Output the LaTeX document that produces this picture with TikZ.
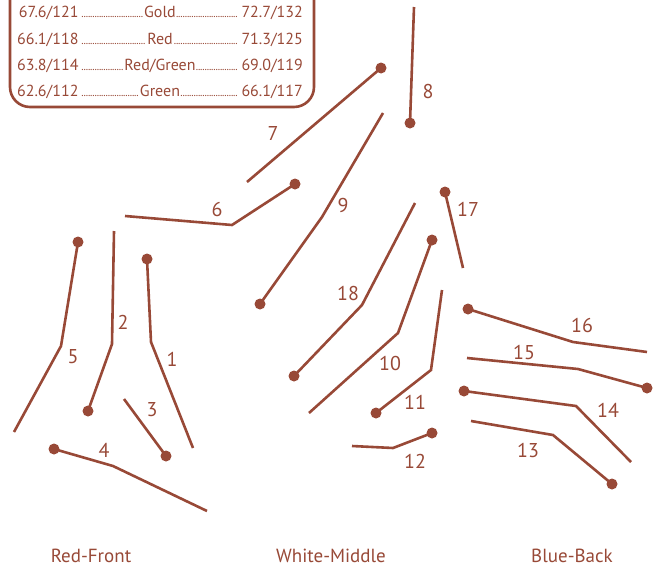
\documentclass[tikz,border=0pt]{standalone}
\usepackage{fontspec}
\setmainfont{PT Sans}
\usetikzlibrary{positioning}
\definecolor{rustred}{RGB}{152,73,55}
\newcommand\leadfill{\leaders\hbox to 2.2pt{\hss\fontsize{11}{11}\selectfont.\hss}\hfill}
\newcommand\tabrow[3]{\makebox[60pt][r]{#1}\hspace{3pt}\makebox[157pt]{\leadfill #2\leadfill}\hspace{3pt}\makebox[60pt][l]{#3}}

\begin{document}
\begin{tikzpicture}[
    x=1pt, y=-1pt,
    seg/.style={draw=rustred, line width=2.6pt},
    ball/.style={circle, fill=rustred, inner sep=0pt, minimum size=11pt},
    num/.style={text=rustred, font=\fontsize{20}{20}\selectfont, inner sep=0pt},
    group/.style={text=rustred, font=\fontsize{19}{19}\selectfont, inner sep=0pt},
    row/.style={text=rustred, font=\fontsize{16}{16}\selectfont, inner sep=0pt}
  ]
    \useasboundingbox (0,0) rectangle (663,573);

    % score box
    \draw[rustred, line width=2.6pt, rounded corners=20pt] (10,-30) rectangle (314,107);
    \node[row] (gold) at (160,13) {\tabrow{67.6/121}{Gold}{72.7/132}};
    \node[row] (red) at (160,40) {\tabrow{66.1/118}{Red}{71.3/125}};
    \node[row] (redgreen) at (160,66) {\tabrow{63.8/114}{Red/Green}{69.0/119}};
    \node[row] (green) at (160,92) {\tabrow{62.6/112}{Green}{66.1/117}};

    % red - front
    \node[ball] (p1) at (147,259) {};
    \draw[seg] (p1.center) -- (151,342) -- (193,448);
    \node[num] (n1) at (172,359) {1};
    \node[ball] (p2) at (88,411) {};
    \draw[seg] (p2.center) -- (112,344) -- (114,231);
    \node[num] (n2) at (123,322) {2};
    \node[ball] (p3) at (166,456) {};
    \draw[seg] (p3.center) -- (124,399);
    \node[num] (n3) at (152,410) {3};
    \node[ball] (p4) at (54,449) {};
    \draw[seg] (p4.center) -- (113,466) -- (207,511);
    \node[num] (n4) at (104,450) {4};
    \node[ball] (p5) at (78,242) {};
    \draw[seg] (p5.center) -- (61,346) -- (14,432);
    \node[num] (n5) at (73,357) {5};
    \node[ball] (p6) at (295,184) {};
    \draw[seg] (p6.center) -- (232,225) -- (125,216);
    \node[num] (n6) at (217,209) {6};

    % white - middle
    \node[ball] (p7) at (381,68) {};
    \draw[seg] (p7.center) -- (247,182);
    \node[num] (n7) at (273,133) {7};
    \node[ball] (p8) at (410,123) {};
    \draw[seg] (p8.center) -- (414,7);
    \node[num] (n8) at (428,91) {8};
    \node[ball] (p9) at (260,304) {};
    \draw[seg] (p9.center) -- (322,217) -- (383,113);
    \node[num] (n9) at (343,205) {9};
    \node[ball] (p10) at (432,240) {};
    \draw[seg] (p10.center) -- (398,333) -- (309,413);
    \node[num] (n10) at (390,363) {10};
    \node[ball] (p11) at (376,413) {};
    \draw[seg] (p11.center) -- (431,370) -- (442,290);
    \node[num] (n11) at (415,402) {11};
    \node[ball] (p12) at (432,433) {};
    \draw[seg] (p12.center) -- (393,448) -- (352,446);
    \node[num] (n12) at (415,461) {12};
    \node[ball] (p17) at (445,192) {};
    \draw[seg] (p17.center) -- (463,268);
    \node[num] (n17) at (468,209) {17};
    \node[ball] (p18) at (294,376) {};
    \draw[seg] (p18.center) -- (362,305) -- (415,203);
    \node[num] (n18) at (348,293) {18};

    % blue - back
    \node[ball] (p13) at (612,484) {};
    \draw[seg] (p13.center) -- (553,435) -- (471,421);
    \node[num] (n13) at (528,450) {13};
    \node[ball] (p14) at (464,391) {};
    \draw[seg] (p14.center) -- (576,406) -- (631,462);
    \node[num] (n14) at (608,410) {14};
    \node[ball] (p15) at (647,388) {};
    \draw[seg] (p15.center) -- (578,369) -- (467,358);
    \node[num] (n15) at (524,352) {15};
    \node[ball] (p16) at (468,309) {};
    \draw[seg] (p16.center) -- (573,342) -- (647,352);
    \node[num] (n16) at (582,325) {16};

    % groups
    \node[group] (front) at (91,556) {Red-Front};
    \node[group] (middle) at (331,556) {White-Middle};
    \node[group] (back) at (572,556) {Blue-Back};
  \end{tikzpicture}
\end{document}
